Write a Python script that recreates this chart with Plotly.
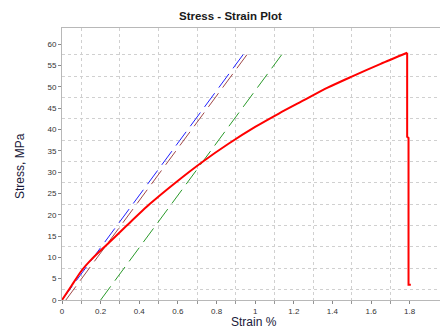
import plotly.graph_objects as go

# Measured stress-strain curve (red): rising part, then the fracture drop
strain_curve = [0, 0.05, 0.1, 0.15, 0.19, 0.221, 0.334, 0.454, 0.584, 0.73, 0.86, 1.0,
                1.125, 1.25, 1.375, 1.5, 1.65, 1.787]
stress_curve = [0, 3.4, 6.8, 9.4, 11.2, 12.5, 17.4, 22.5, 27.4, 32.5, 36.6, 40.6,
                43.8, 46.8, 49.8, 52.4, 55.4, 58.0]
strain_drop = [1.787, 1.787, 1.794, 1.794, 1.806]
stress_drop = [58.0, 38.3, 38.0, 3.6, 3.6]

# Modulus / offset lines (dashed)
strain_blue = [0.0, 0.945]
stress_blue = [0.0, 58.0]
strain_brown = [0.02, 0.965]
stress_brown = [0.0, 58.0]
strain_green = [0.2, 1.145]
stress_green = [0.0, 58.0]

x_ticks = [0, 0.2, 0.4, 0.6, 0.8, 1, 1.2, 1.4, 1.6, 1.8]
x_ticklabels = ["0", "0.2", "0.4", "0.6", "0.8", "1", "1.2", "1.4", "1.6", "1.8"]
x_grid = [0.1, 0.3, 0.5, 0.7, 0.9, 1.1, 1.3, 1.5, 1.7]
y_ticks = list(range(0, 61, 5))
y_grid = [2.5 + 5 * k for k in range(12)]

W, H = 440, 334
L, R, T, B = 62, 0, 28, 34
pw, ph = W - L - R, H - T - B

fig = go.Figure()
dash = "17px,7px"
fig.add_trace(go.Scatter(x=strain_blue, y=stress_blue, mode="lines",
                         line=dict(color="#2020ff", width=1, dash=dash)))
fig.add_trace(go.Scatter(x=strain_brown, y=stress_brown, mode="lines",
                         line=dict(color="#a04848", width=1, dash=dash)))
fig.add_trace(go.Scatter(x=strain_green, y=stress_green, mode="lines",
                         line=dict(color="#2a9a2a", width=1, dash=dash)))
fig.add_trace(go.Scatter(x=strain_curve, y=stress_curve, mode="lines",
                         line=dict(color="#ff0000", width=2, shape="spline", smoothing=0.7)))
fig.add_trace(go.Scatter(x=strain_drop, y=stress_drop, mode="lines",
                         line=dict(color="#ff0000", width=2)))

fam = "Liberation Sans, Arial, sans-serif"
axis_font = dict(family=fam, size=8, color="#333333")
title_font = dict(family=fam, size=12, color="#1a1a3a")

fig.update_layout(
    width=W, height=H,
    margin=dict(l=L, r=R, t=T, b=B, autoexpand=False),
    paper_bgcolor="white", plot_bgcolor="white",
    showlegend=False,
    xaxis=dict(range=[0, 1.957], tickmode="array", tickvals=x_ticks, ticktext=x_ticklabels,
               automargin=False,
               showgrid=False, zeroline=False, showline=True, linecolor="#b8b8b8", linewidth=1,
               mirror=True, ticks="outside", ticklen=3, tickcolor="#888888",
               tickfont=axis_font,
               minor=dict(tickmode="array", tickvals=x_grid, showgrid=True, gridcolor="#d0d0d0",
                          griddash="3px,3px", gridwidth=1, ticks="outside", ticklen=3,
                          tickcolor="#999999")),
    yaxis=dict(range=[0, 63.8], tickmode="array", tickvals=y_ticks,
               automargin=False,
               showgrid=False, zeroline=False, showline=True, linecolor="#b8b8b8", linewidth=1,
               ticks="outside", ticklen=3, tickcolor="#888888",
               tickfont=axis_font,
               minor=dict(tickmode="array", tickvals=y_grid, showgrid=True, gridcolor="#d0d0d0",
                          griddash="3px,3px", gridwidth=1, ticks="")),
    annotations=[
        dict(text="<b>Stress - Strain Plot</b>", xref="paper", yref="paper",
             x=(230.5 - L) / pw, y=1 + (T - 16) / ph, xanchor="center", yanchor="middle",
             showarrow=False, font=dict(family=fam, size=11.5, color="#1a1a1a")),
        dict(text="Strain %", xref="paper", yref="paper",
             x=(254 - L) / pw, y=-(322 - (H - B)) / ph, xanchor="center", yanchor="middle",
             showarrow=False, font=title_font),
        dict(text="Stress, MPa", xref="paper", yref="paper", textangle=-90,
             x=-(L - 20) / pw, y=1 - (166 - T) / ph, xanchor="center", yanchor="middle",
             showarrow=False, font=title_font),
    ],
)

fig.write_html("out.html", config={"displayModeBar": False},
               post_script="document.body.style.margin='0';document.body.style.overflow='hidden';")
